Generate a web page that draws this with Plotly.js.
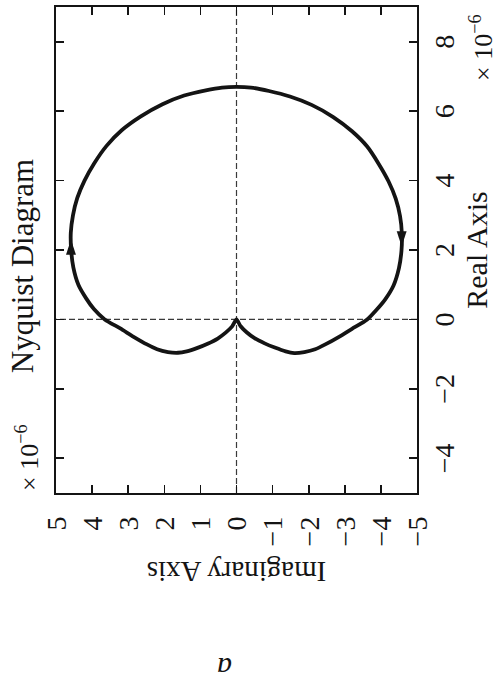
<!DOCTYPE html>
<html>
<head>
<meta charset="utf-8">
<script src="https://cdn.plot.ly/plotly-3.0.1.min.js"></script>
<style>
  html, body { margin: 0; padding: 0; background: #fff; overflow: hidden; }
  body { width: 498px; height: 689px; position: relative; }
  /* the figure is laid out landscape and turned a quarter turn counter-clockwise */
  #wrap {
    position: absolute; left: 0; top: 0;
    width: 689px; height: 498px;
    transform-origin: 0 0;
    transform: translateY(689px) rotate(-90deg);
  }
  #plot { width: 689px; height: 498px; }
</style>
</head>
<body>
<div id="wrap"><div id="plot"></div></div>
<script>
// Nyquist locus (units of 1e-6), upper branch: from the origin to the real-axis crossing
const reUpper = [0, -0.20, -0.38, -0.55, -0.70, -0.82, -0.92, -0.96, -0.94, -0.86, -0.72, -0.50, -0.26,
  0.00, 0.30, 0.60, 1.00, 1.50, 2.00, 2.50, 3.00, 3.50, 4.00, 4.50, 5.00, 5.45, 5.85, 6.20, 6.45, 6.60, 6.68, 6.70];
const imUpper = [0, 0.12, 0.30, 0.52, 0.80, 1.08, 1.38, 1.62, 1.90, 2.20, 2.48, 2.85, 3.22,
  3.65, 3.95, 4.16, 4.38, 4.52, 4.58, 4.59, 4.53, 4.41, 4.21, 3.94, 3.60, 3.18, 2.65, 2.05, 1.45, 0.85, 0.40, 0];

// lower branch: from the real-axis crossing back to the origin
const reLower = [6.68, 6.58, 6.42, 6.18, 5.83, 5.42, 4.98, 4.48, 3.98, 3.48, 2.98, 2.48, 1.98, 1.48, 0.98,
  0.58, 0.28, 0.00, -0.27, -0.50, -0.72, -0.86, -0.94, -0.97, -0.92, -0.81, -0.69, -0.54, -0.37, -0.19, 0];
const imLower = [-0.40, -0.90, -1.48, -2.08, -2.68, -3.20, -3.62, -3.94, -4.21, -4.41, -4.53, -4.58, -4.57,
  -4.50, -4.35, -4.12, -3.88, -3.62, -3.20, -2.84, -2.46, -2.18, -1.88, -1.60, -1.36, -1.06, -0.78, -0.50, -0.28, -0.11, 0];

// direction arrows (tip position and heading)
const arrowRe = [2.30, 2.10];
const arrowIm = [4.585, -4.575];
const arrowHeading = [90, -90];

const realTicks = [-4, -2, 0, 2, 4, 6, 8];
const imagTicks = [-5, -4, -3, -2, -1, 0, 1, 2, 3, 4, 5];

const serif = "Liberation Serif, Times New Roman, serif";
const ink = '#141414';

const locus = {
  x: reUpper.concat(reLower),
  y: imUpper.concat(imLower),
  type: 'scatter', mode: 'lines',
  line: { color: ink, width: 3.8, shape: 'spline', smoothing: 0.6 },
  hoverinfo: 'skip', showlegend: false
};

const arrows = {
  x: arrowRe, y: arrowIm,
  type: 'scatter', mode: 'markers',
  marker: { symbol: 'arrow', size: 16, angle: arrowHeading, color: ink, line: { width: 0 } },
  hoverinfo: 'skip', showlegend: false
};

const axisCommon = {
  showgrid: false, zeroline: false,
  showline: true, linecolor: ink, linewidth: 2, mirror: 'ticks',
  ticks: 'inside', ticklen: 8, tickwidth: 1.6, tickcolor: ink,
  tickfont: { family: serif, size: 28, color: ink }
};

const layout = {
  width: 689, height: 498,
  margin: { l: 196, r: 7, t: 56, b: 81 },
  paper_bgcolor: '#fff', plot_bgcolor: '#fff',
  title: {
    text: 'Nyquist Diagram',
    font: { family: serif, size: 31, color: ink },
    xref: 'paper', x: 0.467, xanchor: 'center',
    yref: 'container', y: 0.955, yanchor: 'middle'
  },
  xaxis: Object.assign({}, axisCommon, {
    range: [-5, 9], tickvals: realTicks, ticklabelstandoff: 1,
    title: { text: 'Real Axis', font: { family: serif, size: 30, color: ink }, standoff: 6 }
  }),
  yaxis: Object.assign({}, axisCommon, {
    range: [-5, 5], tickvals: imagTicks, ticklabelstandoff: 16,
    title: { text: 'Imaginary Axis', font: { family: serif, size: 29, color: ink }, standoff: 6 }
  }),
  shapes: [
    { type: 'line', xref: 'x', yref: 'paper', x0: 0, x1: 0, y0: 0, y1: 1, layer: 'below',
      line: { color: '#3a3a3a', width: 1.2, dash: '6px,3px' } },
    { type: 'line', xref: 'paper', yref: 'y', x0: 0, x1: 1, y0: 0, y1: 0, layer: 'below',
      line: { color: '#3a3a3a', width: 1.2, dash: '6px,3px' } }
  ],
  annotations: [
    { text: '× 10<sup>−6</sup>', xref: 'paper', yref: 'paper', x: 0, y: 1,
      xanchor: 'left', yanchor: 'bottom', yshift: 10, showarrow: false,
      font: { family: serif, size: 26, color: ink } },
    { text: '× 10<sup>−6</sup>', xref: 'paper', yref: 'paper', x: 0.99, y: 0,
      xanchor: 'right', yanchor: 'top', yshift: -46, showarrow: false,
      font: { family: serif, size: 26, color: ink } },
    { text: '<i>a</i>', xref: 'paper', yref: 'paper', x: -0.36, y: 0.532,
      xanchor: 'center', yanchor: 'middle', textangle: -90, showarrow: false, borderpad: 0,
      font: { family: serif, size: 30, color: ink, style: 'italic' } }
  ]
};

Plotly.newPlot('plot', [locus, arrows], layout, { staticPlot: true, displayModeBar: false });
</script>
</body>
</html>
